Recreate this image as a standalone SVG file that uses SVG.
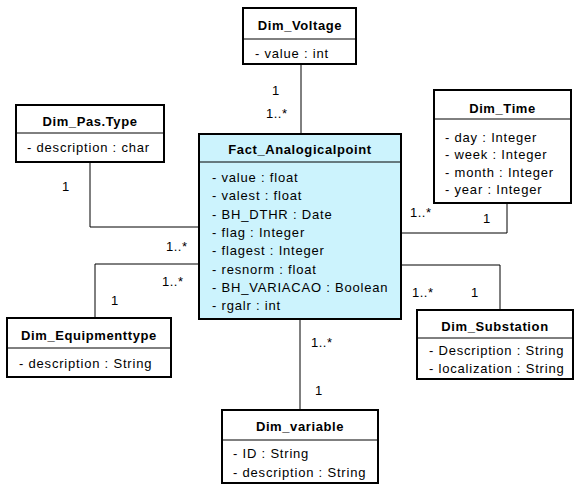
<svg xmlns="http://www.w3.org/2000/svg" width="576" height="484" viewBox="0 0 576 484">
<style>
.box{fill:#ffffff;stroke:#000;stroke-width:2}
.fact{fill:#ccf3fd;stroke:#000;stroke-width:2}
.sep{stroke:#000;stroke-width:1}
.t{font-family:"Liberation Sans",Arial,sans-serif;font-size:13px;font-weight:bold;text-anchor:middle;fill:#000;letter-spacing:0.6px}
.a{font-family:"Liberation Sans",Arial,sans-serif;font-size:13px;fill:#000;letter-spacing:0.8px}
.l{font-family:"Liberation Sans",Arial,sans-serif;font-size:13px;fill:#000;letter-spacing:0.5px}
.c{fill:none;stroke:#000;stroke-width:1}
</style>
<rect width="576" height="484" fill="#ffffff"/>
<g id="connectors">
<path class="c" d="M301,64V134"/>
<path class="c" d="M90,162V227H199"/>
<path class="c" d="M507,203V233H401"/>
<path class="c" d="M95,318V264H199"/>
<path class="c" d="M401,265H500V310"/>
<path class="c" d="M300,319V410"/>
<text class="l" x="272" y="95">1</text>
<text class="l" x="266" y="118">1..*</text>
<text class="l" x="62" y="191">1</text>
<text class="l" x="166" y="251">1..*</text>
<text class="l" x="162" y="286">1..*</text>
<text class="l" x="111" y="305">1</text>
<text class="l" x="410" y="217">1..*</text>
<text class="l" x="483" y="223">1</text>
<text class="l" x="412" y="297">1..*</text>
<text class="l" x="471" y="297">1</text>
<text class="l" x="311" y="347">1..*</text>
<text class="l" x="315" y="395">1</text>
</g>
<g id="Dim_Voltage">
<rect class="box" x="243" y="8" width="113" height="56"/>
<line class="sep" x1="243" y1="39" x2="356" y2="39"/>
<text class="t" x="300" y="30">Dim_Voltage</text>
<text class="a" x="255" y="58">- value : int</text>
</g>
<g id="Dim_Pas.Type">
<rect class="box" x="16" y="105" width="148" height="57"/>
<line class="sep" x1="16" y1="133" x2="164" y2="133"/>
<text class="t" x="90" y="126">Dim_Pas.Type</text>
<text class="a" x="27" y="152">- description : char</text>
</g>
<g id="Fact_Analogicalpoint">
<rect class="fact" x="199" y="134" width="202" height="185"/>
<line class="sep" x1="199" y1="162" x2="401" y2="162"/>
<text class="t" x="300" y="154">Fact_Analogicalpoint</text>
<text class="a" x="212" y="182">- value : float</text>
<text class="a" x="212" y="200.3">- valest : float</text>
<text class="a" x="212" y="218.6">- BH_DTHR : Date</text>
<text class="a" x="212" y="236.9">- flag : Integer</text>
<text class="a" x="212" y="255.2">- flagest : Integer</text>
<text class="a" x="212" y="273.5">- resnorm : float</text>
<text class="a" x="212" y="291.8">- BH_VARIACAO : Boolean</text>
<text class="a" x="212" y="310.1">- rgalr : int</text>
</g>
<g id="Dim_Time">
<rect class="box" x="434" y="90" width="137" height="113"/>
<line class="sep" x1="434" y1="119" x2="571" y2="119"/>
<text class="t" x="502.5" y="113">Dim_Time</text>
<text class="a" x="445" y="141.5">- day : Integer</text>
<text class="a" x="445" y="159">- week : Integer</text>
<text class="a" x="445" y="176.5">- month : Integer</text>
<text class="a" x="445" y="194">- year : Integer</text>
</g>
<g id="Dim_Equipmenttype">
<rect class="box" x="7" y="318" width="164" height="59"/>
<line class="sep" x1="7" y1="348" x2="171" y2="348"/>
<text class="t" x="89" y="340">Dim_Equipmenttype</text>
<text class="a" x="19" y="368">- description : String</text>
</g>
<g id="Dim_Substation">
<rect class="box" x="417" y="310" width="156" height="69"/>
<line class="sep" x1="417" y1="338" x2="573" y2="338"/>
<text class="t" x="495" y="331">Dim_Substation</text>
<text class="a" x="429" y="355">- Description : String</text>
<text class="a" x="429" y="373">- localization : String</text>
</g>
<g id="Dim_variable">
<rect class="box" x="222" y="410" width="156" height="73"/>
<line class="sep" x1="222" y1="440" x2="378" y2="440"/>
<text class="t" x="300" y="431">Dim_variable</text>
<text class="a" x="233" y="458">- ID : String</text>
<text class="a" x="233" y="477">- description : String</text>
</g>
</svg>
